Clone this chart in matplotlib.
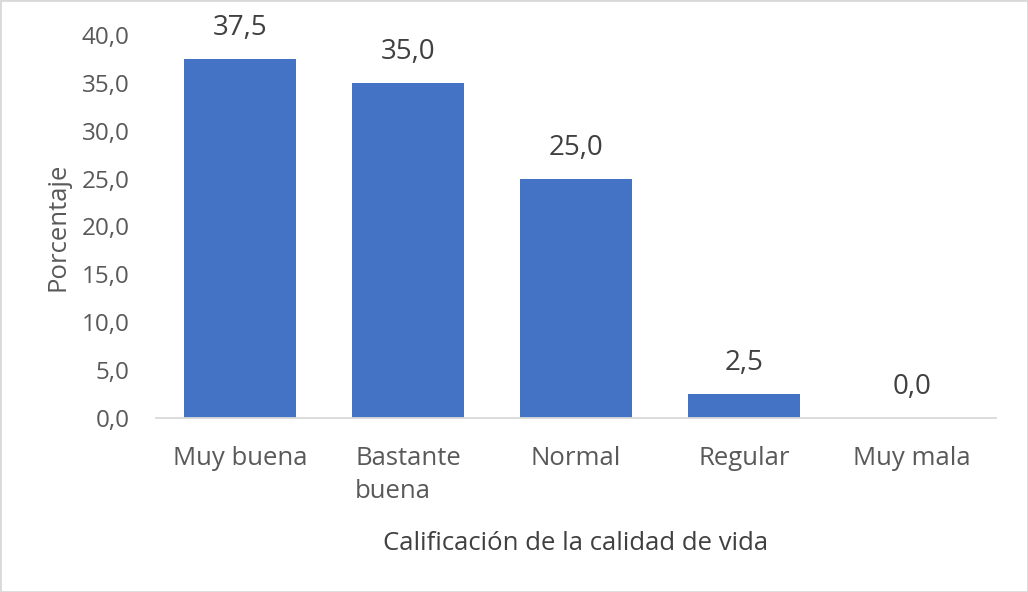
import matplotlib
matplotlib.use("Agg")
import matplotlib.pyplot as plt
from matplotlib.patches import Rectangle

categories = ["Muy buena", "Bastante\nbuena", "Normal", "Regular", "Muy mala"]
values = [37.5, 35.0, 25.0, 2.5, 0.0]
yticks = [0, 5, 10, 15, 20, 25, 30, 35, 40]

plt.rcParams['font.family'] = ['Open Sans', 'DejaVu Sans']

fig = plt.figure(figsize=(10.28, 5.92), dpi=100)
ax = fig.add_axes([156/1028, 1 - 418/592, 840/1028, 383/592])

x = list(range(len(categories)))
bars = ax.bar(x, values, width=0.667, color="#4472C4", zorder=2)
ax.set_xlim(-0.5, len(categories) - 0.5)
ax.set_ylim(0, 40)
ax.set_yticks(yticks)
ax.set_yticklabels([f"{v:.1f}".replace(".", ",") for v in yticks])
ax.set_xticks(x)
ax.set_xticklabels(categories, va="top", ma="left", linespacing=1.45)

for spine in ["top", "right", "left"]:
    ax.spines[spine].set_visible(False)
ax.spines["bottom"].set_color("#D9D9D9")
ax.spines["bottom"].set_linewidth(1.3)
ax.tick_params(axis="y", length=0, labelsize=17.5, colors="#595959", pad=19)
ax.tick_params(axis="x", length=0, labelsize=18.5, colors="#595959", pad=20)

for xi, v in zip(x, values):
    ax.annotate(f"{v:.1f}".replace(".", ","), (xi, v), xytext=(0, 12),
                textcoords="offset points", ha="center", va="bottom",
                fontsize=20, color="#404040")

ax.set_ylabel("Porcentaje", fontsize=18.5, color="#595959", labelpad=8)
ax.set_xlabel("Calificación de la calidad de vida", fontsize=18.5, color="#404040", labelpad=19)

fig.patches.append(Rectangle((0, 0), 1, 1, transform=fig.transFigure, fill=False,
                             edgecolor="#D9D9D9", linewidth=2))

fig.savefig("out.png", dpi=100)
